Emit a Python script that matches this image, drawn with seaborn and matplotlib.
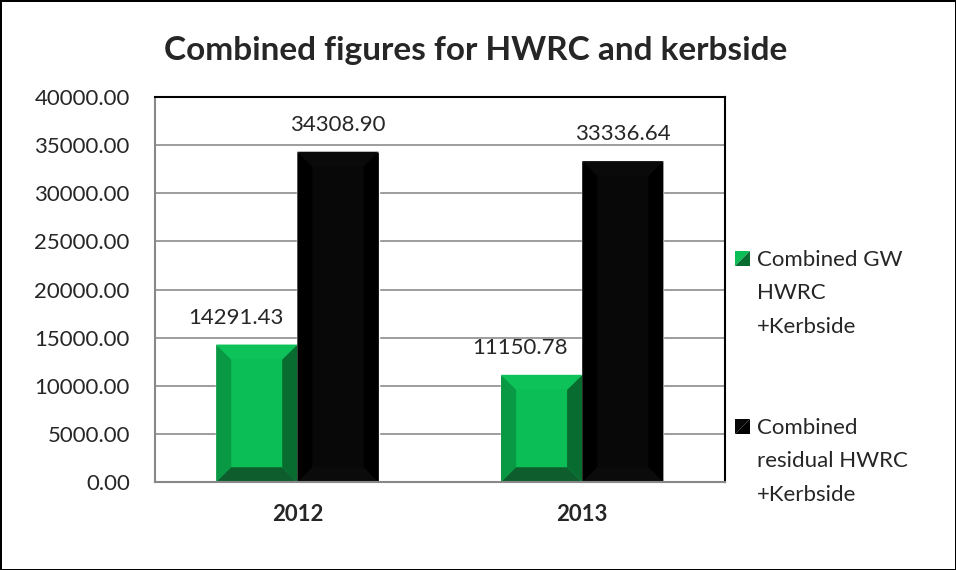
import pandas as pd
import seaborn as sns
import matplotlib
import matplotlib.pyplot as plt
from matplotlib.patches import Polygon, Patch
from matplotlib.legend_handler import HandlerBase
matplotlib.use('Agg')

years = ['2012', '2013']
series = ['Combined GW HWRC +Kerbside', 'Combined residual HWRC +Kerbside']
legend_labels = ['Combined GW\nHWRC\n+Kerbside', 'Combined\nresidual HWRC\n+Kerbside']
gw = [14291.43, 11150.78]
residual = [34308.90, 33336.64]

df = pd.DataFrame({
    'year': years * 2,
    'series': [series[0]] * 2 + [series[1]] * 2,
    'value': gw + residual,
})

sns.set_style('white')
plt.rcParams['font.family'] = ['Lato', 'DejaVu Sans']

# face / left / top / right / bottom shades for the bevel look
shades = {
    series[0]: ['#0bbe55', '#099843', '#0cc259', '#086b30', '#0e5d2d'],
    series[1]: ['#080808', '#000000', '#0a0a0a', '#000000', '#0b0b0b'],
}
FS = 16
LIFT = 1.58  # handle lifted by one text line


class BevelHandler(HandlerBase):
    # small square split on the diagonal, placed at the first text line
    def create_artists(self, legend, orig_handle, xdescent, ydescent,
                       width, height, fontsize, trans):
        x0, y0 = -xdescent, -ydescent + LIFT * fontsize
        x1, y1 = x0 + width, y0 + height
        light = Polygon([(x0, y0), (x0, y1), (x1, y1)], closed=True,
                        facecolor=orig_handle.get_facecolor(), lw=0, transform=trans)
        dark = Polygon([(x0, y0), (x1, y0), (x1, y1)], closed=True,
                       facecolor=orig_handle.get_edgecolor(), lw=0, transform=trans)
        return [light, dark]


fig = plt.figure(figsize=(9.56, 5.7), dpi=100)
fig.patch.set_edgecolor('black')
fig.patch.set_linewidth(2)
ax = fig.add_axes([0.162, 0.154, 0.596, 0.676])

sns.barplot(data=df, x='year', y='value', hue='series', ax=ax, width=0.57,
            palette=[shades[s][0] for s in series], saturation=1, legend=False)

ax.set_ylim(0, 40000)
ax.set_xlim(-0.5, 1.5)
ax.set_yticks(range(0, 40001, 5000))
ax.set_yticklabels([f'{v:.2f}' for v in range(0, 40001, 5000)], fontsize=FS)
ax.set_xticks([0, 1])
ax.set_xticklabels(years, fontsize=FS, fontweight='bold')
ax.tick_params(axis='x', length=0, pad=16)
ax.tick_params(axis='y', length=8, color='#888888', pad=10)
ax.set_xticks([-0.5, 0.5, 1.5], minor=True)
ax.tick_params(axis='x', which='minor', length=8, color='#888888')
ax.set_xlabel('')
ax.set_ylabel('')
ax.yaxis.grid(True, color='#8c8c8c', linewidth=1.2)
ax.set_axisbelow(True)
for side in ['left', 'bottom']:
    ax.spines[side].set_color('#888888')
    ax.spines[side].set_linewidth(1.5)
for side in ['top', 'right']:
    ax.spines[side].set_color('black')
    ax.spines[side].set_linewidth(1.5)

# bevel drawn over each bar
dx, dy = 0.053, 1550
for i, (container, s) in enumerate(zip(ax.containers, series)):
    face, left, top, right, bottom = shades[s]
    for bar in container:
        x0 = bar.get_x()
        x1 = x0 + bar.get_width()
        h = bar.get_height()
        ix0, ix1, iy0, iy1 = x0 + dx, x1 - dx, dy, h - dy
        ax.add_patch(Polygon([(x0, 0), (ix0, iy0), (ix0, iy1), (x0, h)], color=left, lw=0))
        ax.add_patch(Polygon([(x1, 0), (ix1, iy0), (ix1, iy1), (x1, h)], color=right, lw=0))
        ax.add_patch(Polygon([(x0, h), (ix0, iy1), (ix1, iy1), (x1, h)], color=top, lw=0))
        ax.add_patch(Polygon([(x0, 0), (ix0, iy0), (ix1, iy0), (x1, 0)], color=bottom, lw=0))
    labels = ax.bar_label(container, fmt='%.2f', padding=12, fontsize=FS)
    for bar, t in zip(container, labels):
        t.set_zorder(10)
        if i == 0:
            # green labels sit left of the tall neighbour, as in Excel
            t.xy = (bar.get_x() + bar.get_width(), bar.get_height())
            t.set_position((-10, 12))
            t.set_ha('right')

fig.text(0.497, 0.912, 'Combined figures for HWRC and kerbside',
         ha='center', va='center', fontsize=24, fontweight='bold')

handles = [Patch(facecolor=shades[s][0], edgecolor=shades[s][3]) for s in series]
leg = fig.legend(handles, legend_labels, loc='center left', bbox_to_anchor=(0.769, 0.338),
                 frameon=False, fontsize=FS, handlelength=0.68, handleheight=0.68,
                 handletextpad=0.3, labelspacing=3.65, borderpad=0, borderaxespad=0,
                 handler_map={Patch: BevelHandler()})
for t in leg.get_texts():
    t.set_linespacing(1.84)

fig.savefig('out.png', dpi=100)
